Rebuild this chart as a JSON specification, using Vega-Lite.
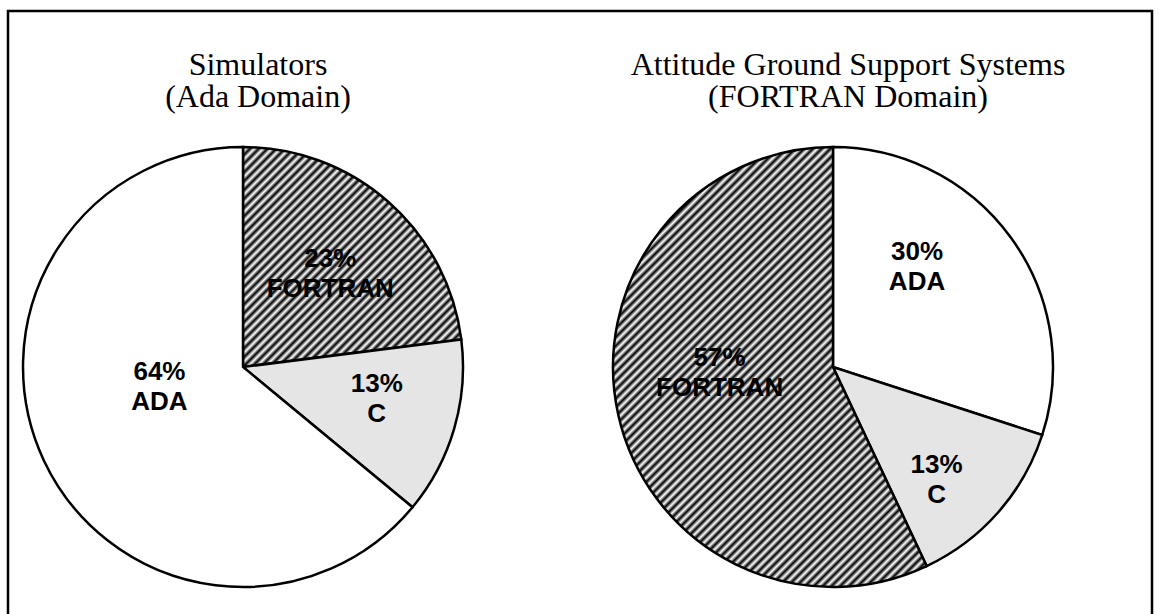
{
  "$schema": "https://vega.github.io/schema/vega-lite/v6.json",
  "width": 1159,
  "height": 614,
  "autosize": {"type": "fit", "contains": "padding"},
  "padding": {"left": 8, "top": 11, "right": 7, "bottom": -4},
  "background": "white",
  "config": {"view": {"stroke": "black", "strokeWidth": 2.5}},
  "datasets": {
    "slices": [
      {"chart": "Simulators", "lang": "FORTRAN", "pct": 23, "label": "23%\nFORTRAN"},
      {"chart": "Simulators", "lang": "C", "pct": 13, "label": "13%\nC"},
      {"chart": "Simulators", "lang": "ADA", "pct": 64, "label": "64%\nADA"},
      {"chart": "Attitude Ground Support Systems", "lang": "ADA", "pct": 30, "label": "30%\nADA"},
      {"chart": "Attitude Ground Support Systems", "lang": "C", "pct": 13, "label": "13%\nC"},
      {"chart": "Attitude Ground Support Systems", "lang": "FORTRAN", "pct": 57, "label": "57%\nFORTRAN"}
    ],
    "titles": [
      {"chart": "Simulators", "title": "Simulators\n(Ada Domain)"},
      {"chart": "Attitude Ground Support Systems", "title": "Attitude Ground Support Systems\n(FORTRAN Domain)"}
    ]
  },
  "data": {"name": "slices"},
  "encoding": {
    "x": {
      "field": "chart",
      "type": "nominal",
      "axis": null,
      "scale": {"type": "point", "domain": ["Simulators", "Attitude Ground Support Systems"], "padding": 0.4695, "align": 0.4242}
    }
  },
  "layer": [
    {
      "transform": [{"filter": "datum.chart === 'Simulators'"}, {"window": [{"op": "row_number", "as": "seq"}]}],
      "mark": {"type": "arc", "radius": 220, "stroke": "black", "strokeWidth": 2.5},
      "encoding": {
        "y": {"datum": "pie", "type": "nominal", "axis": null, "scale": {"type": "point", "domain": ["title", "pie"], "padding": 0.5394, "align": 0.2032}},
        "theta": {"field": "pct", "type": "quantitative", "stack": true, "scale": {"domain": [0, 100]}},
        "order": {"field": "seq"},
        "fill": {"condition": [
          {"test": "datum.lang === 'FORTRAN'", "value": {"gradient": "linear", "x1": 0, "y1": 0, "x2": 1, "y2": 1, "stops": [
            {"offset":0,"color":"#000"},{"offset":0.01,"color":"#fff"},{"offset":0.02,"color":"#000"},{"offset":0.03,"color":"#fff"},{"offset":0.04,"color":"#000"},{"offset":0.05,"color":"#fff"},{"offset":0.06,"color":"#000"},{"offset":0.07,"color":"#fff"},{"offset":0.08,"color":"#000"},{"offset":0.09,"color":"#fff"},
            {"offset":0.1,"color":"#000"},{"offset":0.11,"color":"#fff"},{"offset":0.12,"color":"#000"},{"offset":0.13,"color":"#fff"},{"offset":0.14,"color":"#000"},{"offset":0.15,"color":"#fff"},{"offset":0.16,"color":"#000"},{"offset":0.17,"color":"#fff"},{"offset":0.18,"color":"#000"},{"offset":0.19,"color":"#fff"},
            {"offset":0.2,"color":"#000"},{"offset":0.21,"color":"#fff"},{"offset":0.22,"color":"#000"},{"offset":0.23,"color":"#fff"},{"offset":0.24,"color":"#000"},{"offset":0.25,"color":"#fff"},{"offset":0.26,"color":"#000"},{"offset":0.27,"color":"#fff"},{"offset":0.28,"color":"#000"},{"offset":0.29,"color":"#fff"},
            {"offset":0.3,"color":"#000"},{"offset":0.31,"color":"#fff"},{"offset":0.32,"color":"#000"},{"offset":0.33,"color":"#fff"},{"offset":0.34,"color":"#000"},{"offset":0.35,"color":"#fff"},{"offset":0.36,"color":"#000"},{"offset":0.37,"color":"#fff"},{"offset":0.38,"color":"#000"},{"offset":0.39,"color":"#fff"},
            {"offset":0.4,"color":"#000"},{"offset":0.41,"color":"#fff"},{"offset":0.42,"color":"#000"},{"offset":0.43,"color":"#fff"},{"offset":0.44,"color":"#000"},{"offset":0.45,"color":"#fff"},{"offset":0.46,"color":"#000"},{"offset":0.47,"color":"#fff"},{"offset":0.48,"color":"#000"},{"offset":0.49,"color":"#fff"},
            {"offset":0.5,"color":"#000"},{"offset":0.51,"color":"#fff"},{"offset":0.52,"color":"#000"},{"offset":0.53,"color":"#fff"},{"offset":0.54,"color":"#000"},{"offset":0.55,"color":"#fff"},{"offset":0.56,"color":"#000"},{"offset":0.57,"color":"#fff"},{"offset":0.58,"color":"#000"},{"offset":0.59,"color":"#fff"},
            {"offset":0.6,"color":"#000"},{"offset":0.61,"color":"#fff"},{"offset":0.62,"color":"#000"},{"offset":0.63,"color":"#fff"},{"offset":0.64,"color":"#000"},{"offset":0.65,"color":"#fff"},{"offset":0.66,"color":"#000"},{"offset":0.67,"color":"#fff"},{"offset":0.68,"color":"#000"},{"offset":0.69,"color":"#fff"},
            {"offset":0.7,"color":"#000"},{"offset":0.71,"color":"#fff"},{"offset":0.72,"color":"#000"},{"offset":0.73,"color":"#fff"},{"offset":0.74,"color":"#000"},{"offset":0.75,"color":"#fff"},{"offset":0.76,"color":"#000"},{"offset":0.77,"color":"#fff"},{"offset":0.78,"color":"#000"},{"offset":0.79,"color":"#fff"},
            {"offset":0.8,"color":"#000"},{"offset":0.81,"color":"#fff"},{"offset":0.82,"color":"#000"},{"offset":0.83,"color":"#fff"},{"offset":0.84,"color":"#000"},{"offset":0.85,"color":"#fff"},{"offset":0.86,"color":"#000"},{"offset":0.87,"color":"#fff"},{"offset":0.88,"color":"#000"},{"offset":0.89,"color":"#fff"},
            {"offset":0.9,"color":"#000"},{"offset":0.91,"color":"#fff"},{"offset":0.92,"color":"#000"},{"offset":0.93,"color":"#fff"},{"offset":0.94,"color":"#000"},{"offset":0.95,"color":"#fff"},{"offset":0.96,"color":"#000"},{"offset":0.97,"color":"#fff"},{"offset":0.98,"color":"#000"},{"offset":0.99,"color":"#fff"},
            {"offset":1,"color":"#000"}
          ]}},
          {"test": "datum.lang === 'C'", "value": "#e5e5e5"}
        ], "value": "white"}
      }
    },
    {
      "transform": [{"filter": "datum.chart !== 'Simulators'"}, {"window": [{"op": "row_number", "as": "seq"}]}],
      "mark": {"type": "arc", "radius": 220, "stroke": "black", "strokeWidth": 2.5},
      "encoding": {
        "y": {"datum": "pie", "type": "nominal", "axis": null},
        "theta": {"field": "pct", "type": "quantitative", "stack": true, "scale": {"domain": [0, 100]}},
        "order": {"field": "seq"},
        "fill": {"condition": [
          {"test": "datum.lang === 'FORTRAN'", "value": {"gradient": "linear", "x1": 0, "y1": 0, "x2": 0.942, "y2": 1.321, "stops": [
            {"offset":0,"color":"#000"},{"offset":0.005,"color":"#fff"},{"offset":0.01,"color":"#000"},{"offset":0.015,"color":"#fff"},{"offset":0.02,"color":"#000"},{"offset":0.025,"color":"#fff"},{"offset":0.03,"color":"#000"},{"offset":0.035,"color":"#fff"},{"offset":0.04,"color":"#000"},{"offset":0.045,"color":"#fff"},
            {"offset":0.05,"color":"#000"},{"offset":0.055,"color":"#fff"},{"offset":0.06,"color":"#000"},{"offset":0.065,"color":"#fff"},{"offset":0.07,"color":"#000"},{"offset":0.075,"color":"#fff"},{"offset":0.08,"color":"#000"},{"offset":0.085,"color":"#fff"},{"offset":0.09,"color":"#000"},{"offset":0.095,"color":"#fff"},
            {"offset":0.1,"color":"#000"},{"offset":0.105,"color":"#fff"},{"offset":0.11,"color":"#000"},{"offset":0.115,"color":"#fff"},{"offset":0.12,"color":"#000"},{"offset":0.125,"color":"#fff"},{"offset":0.13,"color":"#000"},{"offset":0.135,"color":"#fff"},{"offset":0.14,"color":"#000"},{"offset":0.145,"color":"#fff"},
            {"offset":0.15,"color":"#000"},{"offset":0.155,"color":"#fff"},{"offset":0.16,"color":"#000"},{"offset":0.165,"color":"#fff"},{"offset":0.17,"color":"#000"},{"offset":0.175,"color":"#fff"},{"offset":0.18,"color":"#000"},{"offset":0.185,"color":"#fff"},{"offset":0.19,"color":"#000"},{"offset":0.195,"color":"#fff"},
            {"offset":0.2,"color":"#000"},{"offset":0.205,"color":"#fff"},{"offset":0.21,"color":"#000"},{"offset":0.215,"color":"#fff"},{"offset":0.22,"color":"#000"},{"offset":0.225,"color":"#fff"},{"offset":0.23,"color":"#000"},{"offset":0.235,"color":"#fff"},{"offset":0.24,"color":"#000"},{"offset":0.245,"color":"#fff"},
            {"offset":0.25,"color":"#000"},{"offset":0.255,"color":"#fff"},{"offset":0.26,"color":"#000"},{"offset":0.265,"color":"#fff"},{"offset":0.27,"color":"#000"},{"offset":0.275,"color":"#fff"},{"offset":0.28,"color":"#000"},{"offset":0.285,"color":"#fff"},{"offset":0.29,"color":"#000"},{"offset":0.295,"color":"#fff"},
            {"offset":0.3,"color":"#000"},{"offset":0.305,"color":"#fff"},{"offset":0.31,"color":"#000"},{"offset":0.315,"color":"#fff"},{"offset":0.32,"color":"#000"},{"offset":0.325,"color":"#fff"},{"offset":0.33,"color":"#000"},{"offset":0.335,"color":"#fff"},{"offset":0.34,"color":"#000"},{"offset":0.345,"color":"#fff"},
            {"offset":0.35,"color":"#000"},{"offset":0.355,"color":"#fff"},{"offset":0.36,"color":"#000"},{"offset":0.365,"color":"#fff"},{"offset":0.37,"color":"#000"},{"offset":0.375,"color":"#fff"},{"offset":0.38,"color":"#000"},{"offset":0.385,"color":"#fff"},{"offset":0.39,"color":"#000"},{"offset":0.395,"color":"#fff"},
            {"offset":0.4,"color":"#000"},{"offset":0.405,"color":"#fff"},{"offset":0.41,"color":"#000"},{"offset":0.415,"color":"#fff"},{"offset":0.42,"color":"#000"},{"offset":0.425,"color":"#fff"},{"offset":0.43,"color":"#000"},{"offset":0.435,"color":"#fff"},{"offset":0.44,"color":"#000"},{"offset":0.445,"color":"#fff"},
            {"offset":0.45,"color":"#000"},{"offset":0.455,"color":"#fff"},{"offset":0.46,"color":"#000"},{"offset":0.465,"color":"#fff"},{"offset":0.47,"color":"#000"},{"offset":0.475,"color":"#fff"},{"offset":0.48,"color":"#000"},{"offset":0.485,"color":"#fff"},{"offset":0.49,"color":"#000"},{"offset":0.495,"color":"#fff"},
            {"offset":0.5,"color":"#000"},{"offset":0.505,"color":"#fff"},{"offset":0.51,"color":"#000"},{"offset":0.515,"color":"#fff"},{"offset":0.52,"color":"#000"},{"offset":0.525,"color":"#fff"},{"offset":0.53,"color":"#000"},{"offset":0.535,"color":"#fff"},{"offset":0.54,"color":"#000"},{"offset":0.545,"color":"#fff"},
            {"offset":0.55,"color":"#000"},{"offset":0.555,"color":"#fff"},{"offset":0.56,"color":"#000"},{"offset":0.565,"color":"#fff"},{"offset":0.57,"color":"#000"},{"offset":0.575,"color":"#fff"},{"offset":0.58,"color":"#000"},{"offset":0.585,"color":"#fff"},{"offset":0.59,"color":"#000"},{"offset":0.595,"color":"#fff"},
            {"offset":0.6,"color":"#000"},{"offset":0.605,"color":"#fff"},{"offset":0.61,"color":"#000"},{"offset":0.615,"color":"#fff"},{"offset":0.62,"color":"#000"},{"offset":0.625,"color":"#fff"},{"offset":0.63,"color":"#000"},{"offset":0.635,"color":"#fff"},{"offset":0.64,"color":"#000"},{"offset":0.645,"color":"#fff"},
            {"offset":0.65,"color":"#000"},{"offset":0.655,"color":"#fff"},{"offset":0.66,"color":"#000"},{"offset":0.665,"color":"#fff"},{"offset":0.67,"color":"#000"},{"offset":0.675,"color":"#fff"},{"offset":0.68,"color":"#000"},{"offset":0.685,"color":"#fff"},{"offset":0.69,"color":"#000"},{"offset":0.695,"color":"#fff"},
            {"offset":0.7,"color":"#000"},{"offset":0.705,"color":"#fff"},{"offset":0.71,"color":"#000"},{"offset":0.715,"color":"#fff"},{"offset":0.72,"color":"#000"},{"offset":0.725,"color":"#fff"},{"offset":0.73,"color":"#000"},{"offset":0.735,"color":"#fff"},{"offset":0.74,"color":"#000"},{"offset":0.745,"color":"#fff"},
            {"offset":0.75,"color":"#000"},{"offset":0.755,"color":"#fff"},{"offset":0.76,"color":"#000"},{"offset":0.765,"color":"#fff"},{"offset":0.77,"color":"#000"},{"offset":0.775,"color":"#fff"},{"offset":0.78,"color":"#000"},{"offset":0.785,"color":"#fff"},{"offset":0.79,"color":"#000"},{"offset":0.795,"color":"#fff"},
            {"offset":0.8,"color":"#000"},{"offset":0.805,"color":"#fff"},{"offset":0.81,"color":"#000"},{"offset":0.815,"color":"#fff"},{"offset":0.82,"color":"#000"},{"offset":0.825,"color":"#fff"},{"offset":0.83,"color":"#000"},{"offset":0.835,"color":"#fff"},{"offset":0.84,"color":"#000"},{"offset":0.845,"color":"#fff"},
            {"offset":0.85,"color":"#000"},{"offset":0.855,"color":"#fff"},{"offset":0.86,"color":"#000"},{"offset":0.865,"color":"#fff"},{"offset":0.87,"color":"#000"},{"offset":0.875,"color":"#fff"},{"offset":0.88,"color":"#000"},{"offset":0.885,"color":"#fff"},{"offset":0.89,"color":"#000"},{"offset":0.895,"color":"#fff"},
            {"offset":0.9,"color":"#000"},{"offset":0.905,"color":"#fff"},{"offset":0.91,"color":"#000"},{"offset":0.915,"color":"#fff"},{"offset":0.92,"color":"#000"},{"offset":0.925,"color":"#fff"},{"offset":0.93,"color":"#000"},{"offset":0.935,"color":"#fff"},{"offset":0.94,"color":"#000"},{"offset":0.945,"color":"#fff"},
            {"offset":0.95,"color":"#000"},{"offset":0.955,"color":"#fff"},{"offset":0.96,"color":"#000"},{"offset":0.965,"color":"#fff"},{"offset":0.97,"color":"#000"},{"offset":0.975,"color":"#fff"},{"offset":0.98,"color":"#000"},{"offset":0.985,"color":"#fff"},{"offset":0.99,"color":"#000"},{"offset":0.995,"color":"#fff"},
            {"offset":1,"color":"#000"}
          ]}},
          {"test": "datum.lang === 'C'", "value": "#e5e5e5"}
        ], "value": "white"}
      }
    },
    {
      "transform": [{"filter": "datum.chart === 'Simulators'"}, {"window": [{"op": "row_number", "as": "seq"}]}],
      "mark": {
        "type": "text", "font": "Liberation Sans", "fontWeight": "bold", "fontSize": 26, "lineBreak": "\n", "lineHeight": 30,
        "align": "center", "baseline": "middle", "color": "black",
        "radius": {"expr": "datum.lang === 'ADA' ? 78 : datum.lang === 'C' ? 133 : 138"},
        "dx": {"expr": "datum.lang === 'ADA' ? -13 : datum.lang === 'C' ? 6 : -4"},
        "dy": {"expr": "datum.lang === 'ADA' ? -28 : datum.lang === 'C' ? -20 : -4"}
      },
      "encoding": {
        "y": {"datum": "pie", "type": "nominal", "axis": null},
        "theta": {"field": "pct", "type": "quantitative", "stack": true, "scale": {"domain": [0, 100]}},
        "order": {"field": "seq"},
        "text": {"field": "label"}
      }
    },
    {
      "transform": [{"filter": "datum.chart !== 'Simulators'"}, {"window": [{"op": "row_number", "as": "seq"}]}],
      "mark": {
        "type": "text", "font": "Liberation Sans", "fontWeight": "bold", "fontSize": 26, "lineBreak": "\n", "lineHeight": 30,
        "align": "center", "baseline": "middle", "color": "black",
        "radius": {"expr": "datum.lang === 'ADA' ? 136 : datum.lang === 'C' ? 142 : 109"},
        "dx": {"expr": "datum.lang === 'ADA' ? -26 : datum.lang === 'C' ? -3 : -7"},
        "dy": {"expr": "datum.lang === 'ADA' ? -35 : datum.lang === 'C' ? 4 : -33"}
      },
      "encoding": {
        "y": {"datum": "pie", "type": "nominal", "axis": null},
        "theta": {"field": "pct", "type": "quantitative", "stack": true, "scale": {"domain": [0, 100]}},
        "order": {"field": "seq"},
        "text": {"field": "label"}
      }
    },
    {
      "data": {"name": "titles"},
      "mark": {"type": "text", "font": "Liberation Serif", "fontSize": 32, "lineBreak": "\n", "lineHeight": 32, "align": "center", "baseline": "alphabetic", "dx": 15, "color": "black"},
      "encoding": {
        "y": {"datum": "title", "type": "nominal", "axis": null},
        "text": {"field": "title"}
      }
    }
  ]
}
